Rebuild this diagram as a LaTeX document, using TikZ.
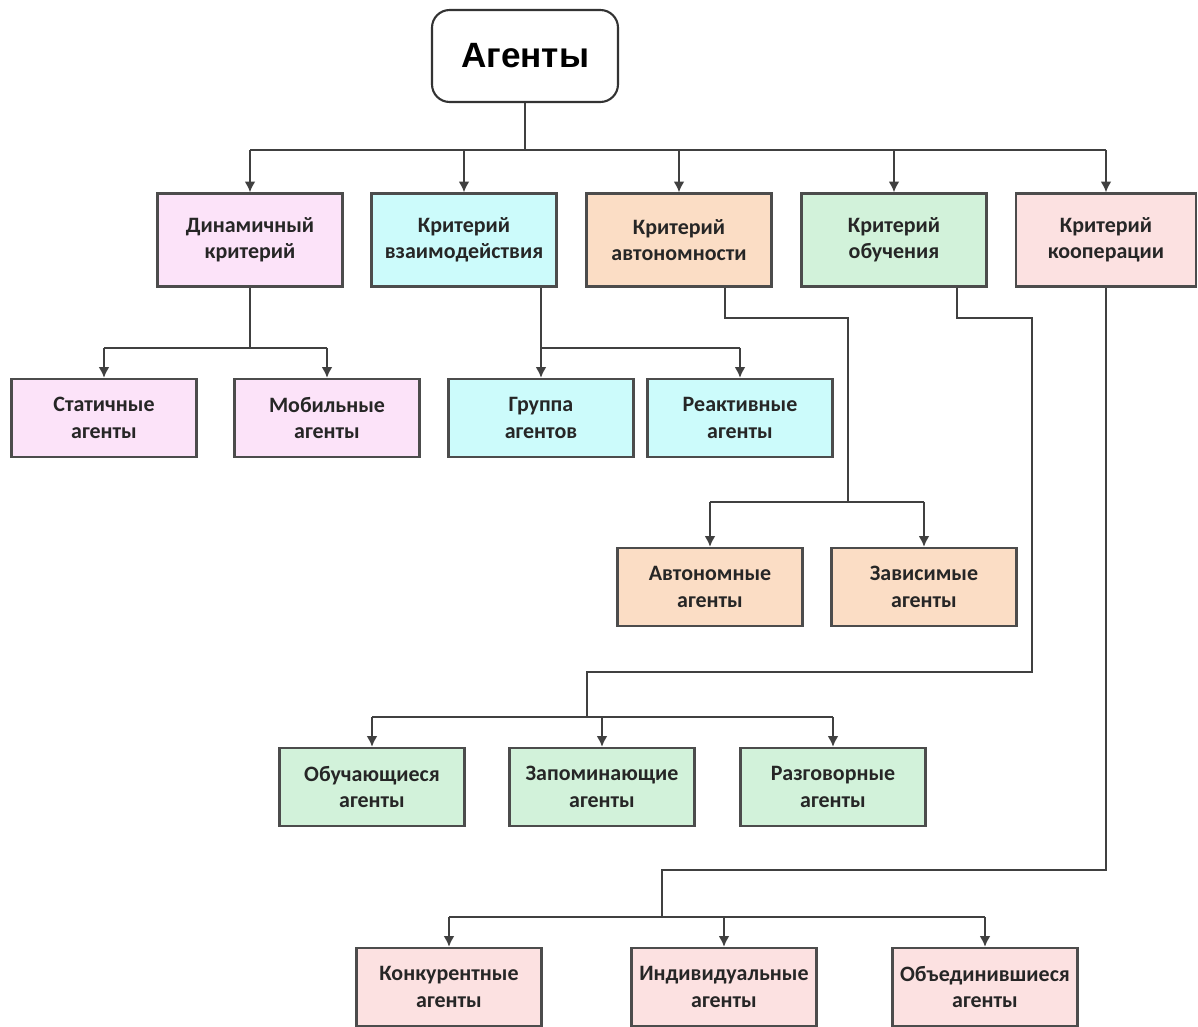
\documentclass[tikz,border=0pt]{standalone}
\usepackage{fontspec}
\setmainfont{Carlito}
\newfontfamily\titlefont{Liberation Sans}
\usetikzlibrary{arrows.meta}

\definecolor{dynpink}{HTML}{FCE3F9}
\definecolor{intcyan}{HTML}{CCFBFB}
\definecolor{autopeach}{HTML}{FBDDC5}
\definecolor{learngreen}{HTML}{D2F2DA}
\definecolor{cooprose}{HTML}{FCE1E1}

\begin{document}
\begin{tikzpicture}[x=0.02cm,y=-0.02cm,
    box/.style={draw=black!70,line width=1.4pt,align=center,inner sep=2pt,
      font=\bfseries\fontsize{12.5}{15}\selectfont,text=black!85},
    crit/.style={box,minimum width=3.7cm,minimum height=1.86cm},
    leaf/.style={box,minimum width=3.7cm,minimum height=1.56cm},
    wire/.style={black!75,line width=0.9pt},
    arr/.style={wire,-{Latex[length=6pt,width=6pt]}}]
  \useasboundingbox (0,0) rectangle (1198,1027);

  \node[draw=black!80,line width=1.2pt,rounded corners=10pt,minimum width=3.72cm,minimum height=1.84cm,
    font=\titlefont\bfseries\fontsize{20}{24}\selectfont] (root) at (525,56) {Агенты};

  % criteria
  \node[crit,fill=dynpink]    (dyn)   at (250,240) {Динамичный\\критерий};
  \node[crit,fill=intcyan]    (inter) at (464,240) {Критерий\\взаимодействия};
  \node[crit,fill=autopeach]  (auto)  at (679,240) {Критерий\\автономности};
  \node[crit,fill=learngreen] (learn) at (894,240) {Критерий\\обучения};
  \node[crit,fill=cooprose,minimum width=3.6cm] (coop) at (1106,240) {Критерий\\кооперации};

  % agents
  \node[leaf,fill=dynpink]    (static)   at (104,418) {Статичные\\агенты};
  \node[leaf,fill=dynpink]    (mobile)   at (327,418) {Мобильные\\агенты};
  \node[leaf,fill=intcyan]    (group)    at (541,418) {Группа\\агентов};
  \node[leaf,fill=intcyan]    (react)    at (740,418) {Реактивные\\агенты};
  \node[leaf,fill=autopeach]  (autonom)  at (710,587) {Автономные\\агенты};
  \node[leaf,fill=autopeach]  (depend)   at (924,587) {Зависимые\\агенты};
  \node[leaf,fill=learngreen] (learning) at (372,787) {Обучающиеся\\агенты};
  \node[leaf,fill=learngreen] (memory)   at (602,787) {Запоминающие\\агенты};
  \node[leaf,fill=learngreen] (talking)  at (833,787) {Разговорные\\агенты};
  \node[leaf,fill=cooprose]   (compete)  at (449,987) {Конкурентные\\агенты};
  \node[leaf,fill=cooprose]   (single)   at (724,987) {Индивидуальные\\агенты};
  \node[leaf,fill=cooprose]   (united)   at (985,987) {Объединившиеся\\агенты};

  % root bus
  \coordinate (top) at (525,150);
  \draw[wire] (root.south) -- (top);
  \draw[wire] (dyn.north |- top) -- (coop.north |- top);
  \foreach \n in {dyn,inter,auto,learn,coop}
    \draw[arr] (\n.north |- top) -- (\n.north);

  % dynamic
  \coordinate (dynbus) at (250,348);
  \draw[wire] (dyn.south) -- (dynbus);
  \draw[wire] (static.north |- dynbus) -- (mobile.north |- dynbus);
  \foreach \n in {static,mobile}
    \draw[arr] (\n.north |- dynbus) -- (\n.north);

  % interaction
  \coordinate (intbus) at (541,348);
  \draw[wire] (intbus |- inter.south) -- (intbus);
  \draw[wire] (group.north |- intbus) -- (react.north |- intbus);
  \foreach \n in {group,react}
    \draw[arr] (\n.north |- intbus) -- (\n.north);

  % autonomy
  \coordinate (autoturn) at (848,318);
  \coordinate (autobus) at (848,502);
  \draw[wire] ([xshift=0.92cm]auto.south) |- (autoturn) -- (autobus);
  \draw[wire] (autonom.north |- autobus) -- (depend.north |- autobus);
  \foreach \n in {autonom,depend}
    \draw[arr] (\n.north |- autobus) -- (\n.north);

  % learning
  \coordinate (learnturn) at (1032,318);
  \coordinate (learnback) at (1032,672);
  \coordinate (learnbus) at (587,717);
  \draw[wire] ([xshift=1.26cm]learn.south) |- (learnturn) -- (learnback) -| (learnbus);
  \draw[wire] (learning.north |- learnbus) -- (talking.north |- learnbus);
  \foreach \n in {learning,memory,talking}
    \draw[arr] (\n.north |- learnbus) -- (\n.north);

  % cooperation
  \coordinate (coopturn) at (662,870);
  \coordinate (coopbus) at (662,917);
  \draw[wire] (coop.south) |- (coopturn) -- (coopbus);
  \draw[wire] (compete.north |- coopbus) -- (united.north |- coopbus);
  \foreach \n in {compete,single,united}
    \draw[arr] (\n.north |- coopbus) -- (\n.north);
\end{tikzpicture}
\end{document}
